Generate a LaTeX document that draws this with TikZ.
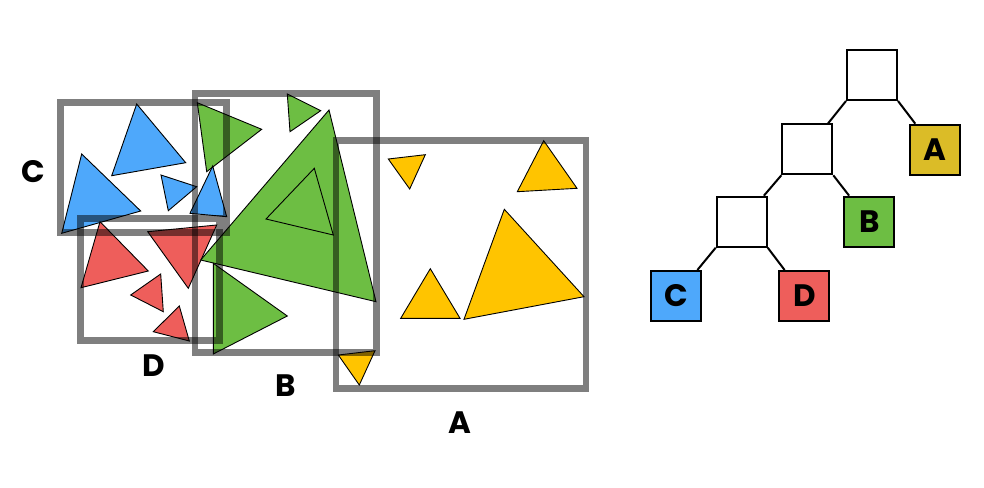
\documentclass[tikz,border=0pt]{standalone}
\usepackage{fontspec}
\setmainfont{Poppins}
\definecolor{cblue}{HTML}{4EA8FB}
\definecolor{cred}{HTML}{EE5E5B}
\definecolor{cgreen}{HTML}{6DBE43}
\definecolor{cyellow}{HTML}{FFC400}
\definecolor{cgold}{HTML}{DBBC27}
\tikzset{
  tri/.style={draw=black, line width=0.9pt, line join=miter},
  bbox/.style={draw=black, draw opacity=0.5, line width=6.7pt},
  lbl/.style={font=\fontsize{31}{31}\selectfont\bfseries, inner sep=0pt},
  tnode/.style={draw=black, line width=2pt, minimum size=50pt, inner sep=0pt, font=\fontsize{31}{31}\selectfont\bfseries},
  edge/.style={draw=black, line width=2pt}
}
\begin{document}
\begin{tikzpicture}[x=1pt,y=-1pt]
\useasboundingbox (0,0) rectangle (984,487);
% blue triangles
\path[tri, fill=cblue] (136.7,104) -- (185.7,162.7) -- (111.7,175.7) -- cycle;
\path[tri, fill=cblue] (81.7,154) -- (140.7,211) -- (61.7,233.3) -- cycle;
\path[tri, fill=cblue] (161,175) -- (196.7,186.7) -- (168.3,210.7) -- cycle;
% green triangles
\path[tri, fill=cgreen] (197.3,102.7) -- (261.7,129.3) -- (206.7,171.7) -- cycle;
\path[tri, fill=cblue] (212.7,166) -- (226.7,216.7) -- (190,213.3) -- cycle;
\path[tri, fill=cgreen] (287.3,94) -- (320.7,110.7) -- (290,131.7) -- cycle;
% red triangles
\path[tri, fill=cred] (100,221.7) -- (148.3,271) -- (81,287.7) -- cycle;
\path[tri, fill=cred] (147.7,231.7) -- (216.7,225) -- (188.3,288.3) -- cycle;
\path[tri, fill=cred] (160.7,274) -- (163.3,311.7) -- (130.7,295) -- cycle;
\path[tri, fill=cred] (179.3,306) -- (189.3,341) -- (153.3,331.7) -- cycle;
\path[tri, fill=cgreen] (329,110) -- (376,301.7) -- (200.7,260) -- cycle;
\path[tri, fill=cgreen] (314.3,168.3) -- (333.3,235) -- (266,219) -- cycle;
\path[tri, fill=cgreen] (213.3,263.3) -- (287.3,316) -- (213.3,354) -- cycle;
% yellow triangles
\path[tri, fill=cyellow] (388.3,159) -- (425.3,154.7) -- (409.7,189) -- cycle;
\path[tri, fill=cyellow] (543.7,140.7) -- (577,188.3) -- (517.3,191.7) -- cycle;
\path[tri, fill=cyellow] (430.3,268.7) -- (460,318.3) -- (400.7,318.3) -- cycle;
\path[tri, fill=cyellow] (504.3,209.3) -- (584,296.7) -- (464,319.3) -- cycle;
\path[tri, fill=cyellow] (338.3,355) -- (375,350.7) -- (359.3,385) -- cycle;
% bounding boxes
\path[bbox] (60.7,102.7) rectangle (226.7,232.7);
\path[bbox] (80.8,218.3) rectangle (219.3,340.8);
\path[bbox] (195,93.7) rectangle (376.7,352.5);
\path[bbox] (336,140.8) rectangle (586,388.7);
% labels
\node[lbl] (lC) at (33,172) {C};
\node[lbl] (lD) at (154,365.5) {D};
\node[lbl] (lB) at (286,385.5) {B};
\node[lbl] (lA) at (460,422.5) {A};
% tree
\node[tnode] (r) at (872,75) {};
\node[tnode] (n2) at (807.3,149.3) {};
\node[tnode] (n3) at (741.7,221.7) {};
\node[tnode, fill=cgold] (tA) at (935,149.7) {A};
\node[tnode, fill=cgreen] (tB) at (869.3,221.7) {B};
\node[tnode, fill=cblue] (tC) at (676,296) {C};
\node[tnode, fill=cred] (tD) at (804.3,296) {D};
\draw[edge] (r.south west) -- (n2);
\draw[edge] (r.south east) -- (tA);
\draw[edge] (n2.south west) -- (n3);
\draw[edge] (n2.south east) -- (tB);
\draw[edge] (n3.south west) -- (tC);
\draw[edge] (n3.south east) -- (tD);
\end{tikzpicture}
\end{document}
